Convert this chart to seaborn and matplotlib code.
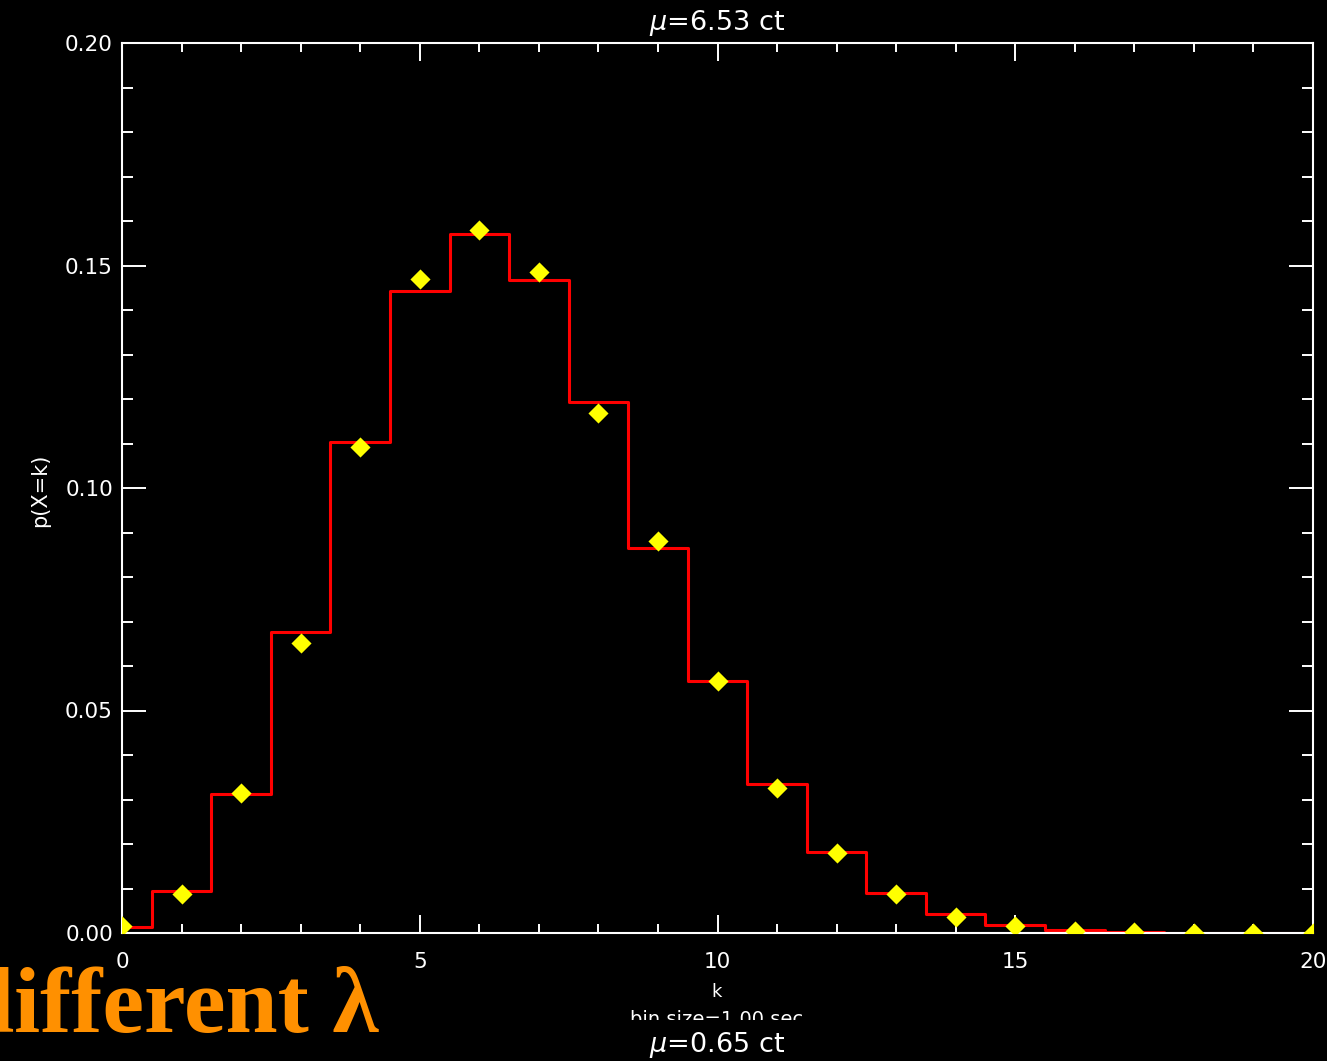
import numpy as np
import pandas as pd
import matplotlib
matplotlib.use("Agg")
import matplotlib.pyplot as plt
from matplotlib.ticker import MultipleLocator, FormatStrFormatter
from matplotlib.transforms import Bbox, TransformedBbox
import seaborn as sns

# ---- data ----
k_values = list(range(0, 21))
observed = [0.0016, 0.0088, 0.0314, 0.0651, 0.1093, 0.1470, 0.1579, 0.1486,
            0.1168, 0.0881, 0.0567, 0.0325, 0.0179, 0.0087, 0.0036, 0.0016,
            0.0005, 0.0002, 0.0001, 0.0000, 0.0000]
model = [0.0014, 0.0094, 0.0312, 0.0676, 0.1104, 0.1443, 0.1571, 0.1467,
         0.1194, 0.0866, 0.0566, 0.0335, 0.0181, 0.0091, 0.0043, 0.0017,
         0.0007, 0.0003, 0.0001, 0.0000, 0.0000]
x_ticks = [0, 5, 10, 15, 20]
y_ticks = [0.00, 0.05, 0.10, 0.15, 0.20]
title_text = r"$\mu$=6.53 ct"
next_title_text = r"$\mu$=0.65 ct"
xlabel_text = "k"
sublabel_text = "bin size=1.00 sec"
ylabel_text = "p(X=k)"
overlay_text = "different λ"

df = pd.DataFrame({"k": k_values, "observed": observed, "model": model})

sns.set_theme(style="ticks", rc={
    "figure.facecolor": "black",
    "axes.facecolor": "black",
    "axes.edgecolor": "white",
    "axes.linewidth": 1.5,
    "xtick.color": "white",
    "ytick.color": "white",
    "text.color": "white",
    "axes.labelcolor": "white",
    "xtick.direction": "in",
    "ytick.direction": "in",
    "xtick.top": True,
    "ytick.right": True,
    "axes.grid": False,
    "mathtext.fontset": "dejavusans",
})
plt.rcParams["font.family"] = ["DejaVu Sans"]

W, H = 1327, 1061
fig = plt.figure(figsize=(W / 100, H / 100), dpi=100)
ax = fig.add_axes([122 / W, 1 - 933 / H, (1313 - 122) / W, (933 - 43) / H])

sns.lineplot(data=df, x="k", y="model", drawstyle="steps-mid", color="#ff0000",
             linewidth=2.2, ax=ax, zorder=2)
sns.scatterplot(data=df, x="k", y="observed", marker="D", color="#ffff00",
                s=105, linewidth=0, ax=ax, zorder=3)

ax.set_xlim(0, 20)
ax.set_ylim(0, 0.20)
ax.set_xticks(x_ticks)
ax.set_yticks(y_ticks)
ax.xaxis.set_minor_locator(MultipleLocator(1))
ax.yaxis.set_minor_locator(MultipleLocator(0.01))
ax.yaxis.set_major_formatter(FormatStrFormatter("%.2f"))
ax.xaxis.set_major_formatter(FormatStrFormatter("%d"))
ax.set_xlabel("")
ax.set_ylabel("")
for s in ax.spines.values():
    s.set_color("white")
    s.set_linewidth(1.5)

ax.tick_params(axis="x", which="major", length=13, width=1.4, pad=14,
               labelsize=15.5, colors="white", top=True, bottom=True)
ax.tick_params(axis="x", which="minor", length=6.5, width=1.4,
               colors="white", top=True, bottom=True)
ax.tick_params(axis="y", which="major", length=17, width=1.4, pad=6.5,
               labelsize=15.5, colors="white", left=True, right=True)
ax.tick_params(axis="y", which="minor", length=8, width=1.4,
               colors="white", left=True, right=True)

# texts
fig.text(717 / W, 1 - 30 / H, title_text, ha="center", va="baseline",
         fontsize=19.5, color="white")
fig.text(40 / W, 1 - 490 / H, ylabel_text, ha="center", va="center",
         rotation=90, fontsize=15, color="white")
fig.text(717 / W, 1 - 992 / H, xlabel_text, ha="center", va="center",
         fontsize=13, color="white")
t_bin = fig.text(717 / W, 1 - 1010 / H, sublabel_text, ha="center", va="top",
                 fontsize=14, color="white")
clip = TransformedBbox(Bbox([[0, 1 - 1020 / H], [1, 1]]), fig.transFigure)
t_bin.set_clip_box(clip)
t_bin.set_clip_on(True)
fig.text(717 / W, 1 - 1052 / H, next_title_text, ha="center", va="baseline",
         fontsize=19.5, color="white")
fig.text(-38 / W, 1 - 1032 / H, overlay_text, ha="left", va="baseline",
         fontsize=67.5, fontweight="bold", color="#ff9000",
         family=["Liberation Serif", "DejaVu Serif"])

fig.savefig("out.png", dpi=100, facecolor="black")
